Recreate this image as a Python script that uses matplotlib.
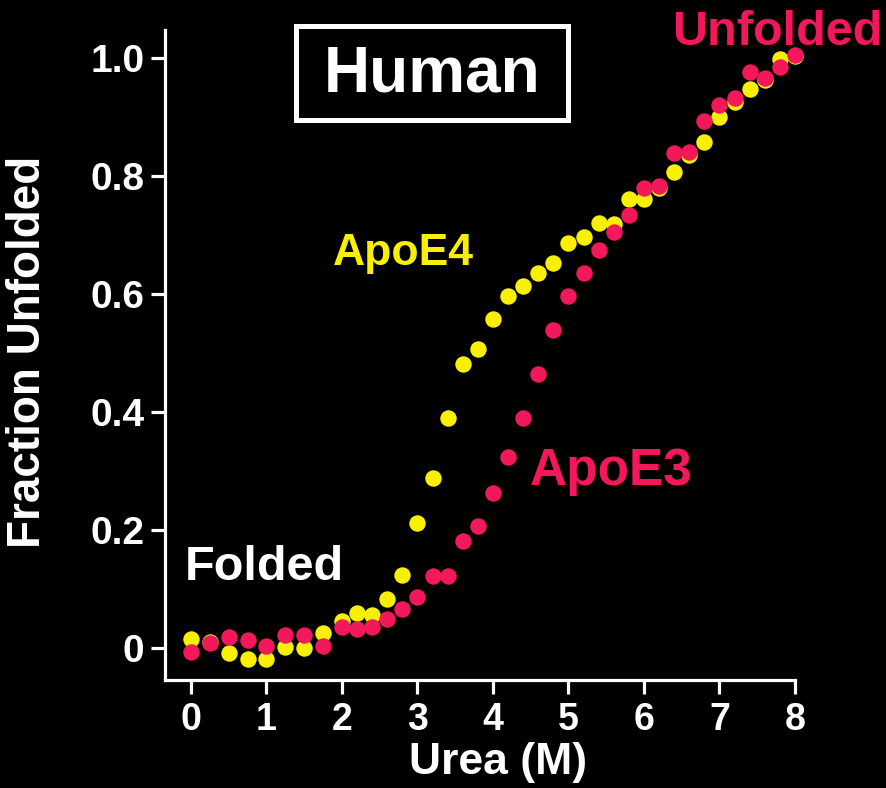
import matplotlib
matplotlib.use("Agg")
import matplotlib.pyplot as plt
from matplotlib.patches import Rectangle

urea = [0, 0.25, 0.5, 0.75, 1.0, 1.25, 1.5, 1.75,
        2.0, 2.2, 2.4, 2.6, 2.8, 3.0, 3.2, 3.4, 3.6, 3.8,
        4.0, 4.2, 4.4, 4.6, 4.8, 5.0, 5.2, 5.4, 5.6, 5.8,
        6.0, 6.2, 6.4, 6.6, 6.8, 7.0, 7.2, 7.4, 7.6, 7.8, 8.0]

apoe4 = [0.015, 0.010, -0.008, -0.019, -0.019, 0.002, 0.000, 0.025,
         0.045, 0.059, 0.056, 0.083, 0.124, 0.212, 0.288, 0.390, 0.481, 0.507,
         0.558, 0.597, 0.614, 0.636, 0.653, 0.686, 0.697, 0.720, 0.718, 0.760,
         0.761, 0.780, 0.807, 0.835, 0.857, 0.900, 0.925, 0.947, 0.962, 0.998, 1.003]

apoe3 = [-0.007, 0.008, 0.019, 0.014, 0.003, 0.022, 0.022, 0.003,
         0.036, 0.032, 0.036, 0.049, 0.066, 0.086, 0.122, 0.122, 0.182, 0.206,
         0.263, 0.324, 0.390, 0.464, 0.539, 0.597, 0.636, 0.674, 0.705, 0.734,
         0.780, 0.782, 0.838, 0.841, 0.893, 0.920, 0.932, 0.975, 0.966, 0.985, 1.005]

xticks = [0, 1, 2, 3, 4, 5, 6, 7, 8]
yticks = [0, 0.2, 0.4, 0.6, 0.8, 1.0]
yticklabels = ["0", "0.2", "0.4", "0.6", "0.8", "1.0"]

YELLOW = "#F8F000"
RED = "#F2185A"
WHITE = "white"

plt.rcParams['font.family'] = ['Liberation Sans', 'DejaVu Sans']
plt.rcParams['font.weight'] = 'bold'

fig = plt.figure(figsize=(8.86, 7.88), dpi=100, facecolor='black')
ax = fig.add_axes([165/886, 108/788, 630/886, 650/788])
ax.set_facecolor('black')

ms = 140
ax.scatter(urea, apoe4, s=ms, color=YELLOW, linewidths=0, clip_on=False, zorder=3)
ax.scatter(urea, apoe3, s=ms, color=RED, linewidths=0, clip_on=False, zorder=4)

ax.set_xlim(-0.344, 8.0)
ax.set_ylim(-0.0542, 1.047)

for s in ['top', 'right']:
    ax.spines[s].set_visible(False)
for s in ['left', 'bottom']:
    ax.spines[s].set_color(WHITE)
    ax.spines[s].set_linewidth(2.3)

ax.set_xticks(xticks)
ax.set_xticklabels([str(t) for t in xticks])
ax.set_yticks(yticks)
ax.set_yticklabels(yticklabels)
ax.tick_params(axis='both', colors=WHITE, direction='out', length=10, width=2.3)
ax.tick_params(axis='x', labelsize=27, pad=6)
ax.tick_params(axis='y', labelsize=28, pad=5)
for lab in ax.get_xticklabels() + ax.get_yticklabels():
    lab.set_fontweight('bold')

ax.set_xlabel("Urea (M)", fontsize=32, fontweight='bold', color=WHITE)
ax.xaxis.set_label_coords(0.529, -0.096)
ax.set_ylabel("Fraction Unfolded", fontsize=33, fontweight='bold', color=WHITE)
ax.yaxis.set_label_coords(-0.183, 0.505)

ax.text(2.81, 0.649, "ApoE4", color=YELLOW, fontsize=32, fontweight='bold',
        ha='center', va='baseline', zorder=5)
ax.text(5.56, 0.276, "ApoE3", color=RED, fontsize=37, fontweight='bold',
        ha='center', va='baseline', zorder=5)
ax.text(0.97, 0.115, "Folded", color=WHITE, fontsize=35, fontweight='bold',
        ha='center', va='baseline', zorder=5)
ax.text(7.76, 1.022, "Unfolded", color=RED, fontsize=35, fontweight='bold',
        ha='center', va='baseline', zorder=5, clip_on=False)

# Title box
bx0, by0, bw, bh = 296/886, 1 - 120/788, 272/886, 94/788
fig.add_artist(Rectangle((bx0, by0), bw, bh, transform=fig.transFigure,
                         fill=False, edgecolor=WHITE, linewidth=3.6))
fig.text(bx0 + bw/2, by0 + bh/2 - 0.002, "Human", color=WHITE, fontsize=46,
         fontweight='bold', ha='center', va='center')

fig.savefig("out.png", dpi=100, facecolor='black')
